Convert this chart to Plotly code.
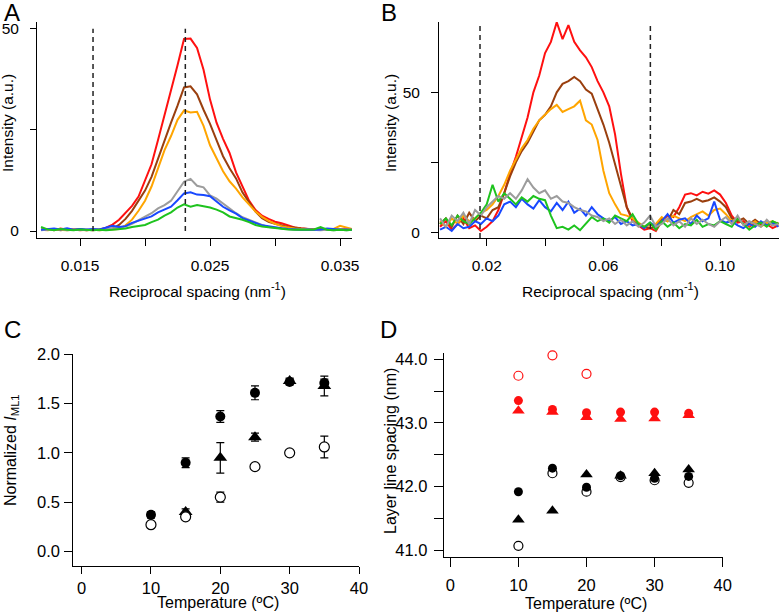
import plotly.graph_objects as go

W, H = 782, 612
FONT = "Liberation Sans, Arial, sans-serif"

# ---------------- Panel A data ----------------
xa = [0.0120, 0.0125, 0.0130, 0.0135, 0.0140, 0.0145, 0.0150, 0.0155, 0.0160, 0.0165,
      0.0170, 0.0175, 0.0180, 0.0185, 0.0190, 0.0195, 0.0200, 0.0205, 0.0210, 0.0215,
      0.0220, 0.0225, 0.0230, 0.0235, 0.0240, 0.0245, 0.0250, 0.0255, 0.0260, 0.0265,
      0.0270, 0.0275, 0.0280, 0.0285, 0.0290, 0.0295, 0.0300, 0.0305, 0.0310, 0.0315,
      0.0320, 0.0325, 0.0330, 0.0335, 0.0340, 0.0345, 0.0350, 0.0355, 0.0360]
a_red = [0.3, 0.5, 0.2, 0.6, 0.3, 0.4, 0.2, 0.3, 0.2, 0.4, 0.8, 1.6, 2.8, 4.5, 6.2, 8.5, 12.5, 16.5,
         22.5, 28.5, 34.5, 41.0, 47.5, 47.6, 45.3, 39.9, 32.5, 26.8, 22.8, 19.3, 14.5, 11.0, 7.5,
         5.2, 3.8, 3.0, 2.3, 1.9, 1.4, 0.9, 0.7, 0.5, 0.4, 0.5, 0.3, 0.4, 0.3, 0.4, 0.3]
a_brown = [0.4, 0.3, 0.5, 0.2, 0.4, 0.3, 0.5, 0.2, 0.4, 0.3, 0.4,
           0.6, 1.5, 3.0, 5.0, 7.5, 10.0, 13.4, 18.0, 22.5, 26.8, 31.0, 35.5, 35.8, 33.8, 30.0,
           26.5, 22.5, 18.5, 15.5, 13.0, 9.5, 7.0, 4.8, 3.2, 2.3, 1.8, 1.4, 1.0, 0.9, 0.6, 0.5,
           0.4, 0.3, 0.4, 0.3, 0.4, 0.3, 0.3]
a_orange = [0.3, 0.2, 0.4, 0.3, 0.2, 0.4, 0.3, 0.2, 0.3, 0.2, 0.3, 0.4,
            0.5, 1.4, 2.8, 5.0, 7.5, 11.0, 15.5, 20.0, 23.5, 27.5, 29.8, 29.3, 29.5, 26.0, 21.2,
            18.0, 14.8, 12.3, 10.5, 8.3, 6.5, 4.8, 3.5, 2.5, 1.8, 1.2, 0.9, 0.6, 0.5, 0.4, 0.4,
            0.3, 0.4, 0.5, 1.3, 0.8, 0.4]
a_gray = [0.2, 0.4, 0.3, 0.5, 0.2, 0.3, 0.4, 0.2, 0.3, 0.2, 0.4,
          0.6, 0.9, 1.1, 1.8, 2.6, 3.6, 4.4, 5.6, 6.4, 7.5, 9.8, 12.2, 12.9, 11.2, 10.8, 8.8,
          8.0, 6.8, 5.4, 4.4, 3.4, 2.8, 2.0, 1.5, 1.0, 0.8, 0.6, 0.5, 0.4, 0.3, 0.4, 0.3, 0.2,
          0.3, 0.2, 0.3, 0.2, 0.3]
a_blue = [0.3, 0.5, 0.6, 0.4, 0.7, 0.3, 0.5, 0.4,
          0.5, 0.4, 0.9, 1.3, 1.0, 1.2, 2.0, 2.6, 3.0, 3.6, 4.6, 5.2, 6.0, 7.6, 9.3, 9.6, 9.0,
          8.9, 8.6, 7.3, 6.0, 5.1, 4.3, 3.2, 2.6, 2.0, 1.4, 1.2, 0.9, 0.7, 0.5, 0.4, 0.3, 0.4,
          0.3, 0.4, 0.6, 0.5, 0.3, 0.4, 0.3]
a_green = [1.0, 0.4, 0.2, 0.5, 0.3, 0.2, 0.4, 0.3, 0.2, 0.3, 0.2, 0.3,
           0.5, 0.6, 1.0, 1.3, 1.5, 2.2, 2.8, 3.8, 4.6, 5.8, 6.6, 6.0, 6.4, 6.1, 5.8, 5.3, 4.6,
           3.6, 3.2, 2.8, 2.2, 1.5, 1.1, 0.9, 0.7, 0.5, 0.4, 0.3, 0.4, 0.3, 0.4, 1.0, 0.3, 0.2,
           0.3, 0.2, 0.3]
a_dashes = [0.0160, 0.0231]

# ---------------- Panel B data ----------------
xb = [0.004, 0.006, 0.008, 0.010, 0.012, 0.014, 0.016, 0.018, 0.020, 0.022,
      0.024, 0.026, 0.028, 0.030, 0.032, 0.034, 0.036, 0.038, 0.040, 0.042,
      0.044, 0.046, 0.048, 0.050, 0.052, 0.054, 0.056, 0.058, 0.060, 0.062,
      0.064, 0.066, 0.068, 0.070, 0.072, 0.074, 0.076, 0.078, 0.080, 0.082,
      0.084, 0.086, 0.088, 0.090, 0.092, 0.094, 0.096, 0.098, 0.100, 0.102,
      0.104, 0.106, 0.108, 0.110, 0.112, 0.114, 0.116, 0.118, 0.120]
b_red = [2, 4, 1, 3, 5, 1.5, 2.5, 0.5, 2, 4, 8, 14, 21, 27, 34, 41, 50, 56, 64, 68,
         75, 69, 74, 68, 65, 62.5, 59, 54, 50, 45, 35, 21, 9, 4, 2.5, 1, 1.5, 0.5, 4, 6,
         5.5, 9, 13.5, 14, 13.2, 14.5, 13.8, 15, 13.5, 10.5, 6, 3.5, 4, 2, 3.5, 2.5, 3, 1.5, 2.5]
b_brown = [3, 5, 2, 6, 3, 7, 4, 6, 5, 8, 9, 14, 20, 25, 29, 32, 36, 40, 42, 45,
           50, 53, 54, 55.5, 54, 51, 49.5, 44, 38.5, 32, 24, 16, 9, 5, 3, 2, 1.5, 2, 5, 4,
           8, 6.5, 10.5, 11, 12, 11, 11.5, 12.5, 11, 9, 5, 4, 5, 3, 4.5, 3, 4, 2.5, 3.5]
b_orange = [4, 2, 5, 3, 6, 4, 5, 7, 8, 10, 13, 17, 22, 26, 30, 33, 37, 40, 42, 44,
            45.5, 43, 44, 45, 47, 40, 38.5, 33, 22, 14, 10, 6.5, 6, 5, 3.5, 2, 2.5, 3, 5.5, 4,
            6, 5, 4, 5.5, 6.5, 7.5, 6, 8, 8.5, 6.5, 4, 5, 3, 2.5, 4, 2, 3.5, 4, 3]
b_gray = [5, 2, 6, 4, 7, 3, 8, 6, 9, 11, 13, 12, 14, 12, 15, 19, 16, 14, 15, 12,
          13, 11, 10.5, 9, 8, 7.5, 6, 5.5, 4, 5, 3, 4.5, 2.5, 4, 2, 3.5, 6, 2, 3, 5,
          2.5, 4, 2, 5, 3, 4.5, 3, 2, 4, 5.5, 3, 6, 2.5, 4, 3, 2, 4.5, 2.5, 3]
b_blue = [1, 2, 0.5, 3, 1.5, 2, 4, 3, 5, 4, 6, 10, 11, 9, 12, 10, 8.5, 11.5, 9, 7.5,
          10.5, 8, 11, 7, 8.5, 6, 9, 6.5, 5, 4, 5.5, 3, 4, 2.5, 3, 1.5, 3.5, 2, 4, 6.5,
          3.5, 4.5, 5, 3, 6, 4, 5, 11, 4.5, 3.5, 4, 2.5, 1.5, 3, 2, 4, 2.5, 3.5, 2]
b_green = [3, 5, 2.5, 6, 4, 3, 5, 7, 10, 17, 11, 14, 12, 10, 12.5, 11, 13, 12, 11.5, 6,
           1.5, 2, 1, 2.5, 0.8, 3, 5.5, 4, 5, 3.5, 6, 5, 4, 6.5, 3, 2, 3.5, 1, 4, 2,
           3.5, 1.5, 3, 2.5, 4.5, 2, 3, 2.5, 4, 3, 2, 5, 3, 1, 2.5, 3.5, 2, 4, 3]
b_dashes = [0.0177, 0.0761]

# ---------------- Panel C data ----------------
temps = [10, 15, 20, 25, 30, 35]
c_filled = [0.37, 0.90, 1.37, 1.61, 1.72, 1.71]
c_filled_err = [0.03, 0.05, 0.06, 0.07, 0.03, 0.04]
c_tri = [None, 0.40, 0.95, 1.16, 1.73, 1.68]
c_tri_err = [0, 0.03, 0.155, 0.04, 0.03, 0.10]
c_open = [0.27, 0.35, 0.55, 0.86, 1.00, 1.06]
c_open_err = [0.02, 0.02, 0.05, 0.02, 0.02, 0.11]

# ---------------- Panel D data ----------------
d_red_open_t = [10, 15, 20]
d_red_open = [43.74, 44.06, 43.77]
d_red_filled = [43.35, 43.21, 43.16, 43.17, 43.17, 43.15]
d_red_tri = [43.19, 43.17, 43.09, 43.06, 43.07, 43.12]
d_blk_filled = [41.92, 42.29, 41.99, 42.17, 42.13, 42.16]
d_blk_open = [41.07, 42.21, 41.92, 42.15, 42.10, 42.06]
d_blk_tri = [41.48, 41.62, 42.19, 42.17, 42.21, 42.27]

# ---------------- styles ----------------
C_RED = "#FF1010"
C_BROWN = "#9A3F0E"
C_ORANGE = "#FFA500"
C_GRAY = "#9C9C9C"
C_BLUE = "#1848FF"
C_GREEN = "#1EC31E"


def px(x):
    return x / W


def py(y):
    return 1 - y / H


fig = go.Figure()

for ys, col in [(a_red, C_RED), (a_brown, C_BROWN), (a_orange, C_ORANGE),
                (a_gray, C_GRAY), (a_blue, C_BLUE), (a_green, C_GREEN)]:
    fig.add_trace(go.Scatter(x=xa, y=ys, mode="lines", line=dict(color=col, width=2),
                             xaxis="x", yaxis="y", showlegend=False, hoverinfo="skip"))

for ys, col in [(b_red, C_RED), (b_brown, C_BROWN), (b_orange, C_ORANGE),
                (b_blue, C_BLUE), (b_green, C_GREEN), (b_gray, C_GRAY)]:
    fig.add_trace(go.Scatter(x=xb, y=ys, mode="lines", line=dict(color=col, width=2),
                             xaxis="x2", yaxis="y2", showlegend=False, hoverinfo="skip"))


def err(arr):
    return dict(type="data", array=arr, visible=True, color="black", thickness=1.2, width=4)


# Panel C markers
fig.add_trace(go.Scatter(x=temps, y=c_tri, mode="markers", error_y=err(c_tri_err),
                         marker=dict(symbol="triangle-up", size=12, color="black"),
                         xaxis="x3", yaxis="y3", showlegend=False, cliponaxis=False))
fig.add_trace(go.Scatter(x=temps, y=c_open, mode="markers", error_y=err(c_open_err),
                         marker=dict(symbol="circle", size=10, color="white",
                                     line=dict(color="black", width=1.2)),
                         xaxis="x3", yaxis="y3", showlegend=False, cliponaxis=False))
fig.add_trace(go.Scatter(x=temps, y=c_filled, mode="markers", error_y=err(c_filled_err),
                         marker=dict(symbol="circle", size=10, color="black"),
                         xaxis="x3", yaxis="y3", showlegend=False, cliponaxis=False))

# Panel D markers
for ys, col in [(d_blk_tri, "black"), (d_red_tri, C_RED)]:
    fig.add_trace(go.Scatter(x=temps, y=ys, mode="markers",
                             marker=dict(symbol="triangle-up", size=11, color=col),
                             xaxis="x4", yaxis="y4", showlegend=False, cliponaxis=False))
fig.add_trace(go.Scatter(x=temps, y=d_blk_open, mode="markers",
                         marker=dict(symbol="circle", size=9, color="white",
                                     line=dict(color="black", width=1.2)),
                         xaxis="x4", yaxis="y4", showlegend=False, cliponaxis=False))
fig.add_trace(go.Scatter(x=d_red_open_t, y=d_red_open, mode="markers",
                         marker=dict(symbol="circle", size=9, color="white",
                                     line=dict(color=C_RED, width=1.2)),
                         xaxis="x4", yaxis="y4", showlegend=False, cliponaxis=False))
for ys, col in [(d_blk_filled, "black"), (d_red_filled, C_RED)]:
    fig.add_trace(go.Scatter(x=temps, y=ys, mode="markers",
                             marker=dict(symbol="circle", size=9, color=col),
                             xaxis="x4", yaxis="y4", showlegend=False, cliponaxis=False))


def ax(size, ticklen, standoff, **kw):
    d = dict(showline=True, linecolor="black", linewidth=1, ticks="outside",
             ticklen=ticklen, tickwidth=1, tickcolor="black", showgrid=False,
             zeroline=False, ticklabelstandoff=standoff, automargin=False,
             tickfont=dict(family=FONT, size=size, color="black"))
    d.update(kw)
    return d


TA = 15.5   # tick font A/B
TC = 16.5   # tick font C/D
fig.update_layout(
    width=W, height=H, margin=dict(l=0, r=0, t=0, b=0, pad=0), autosize=False,
    paper_bgcolor="white", plot_bgcolor="white", showlegend=False,
    xaxis=ax(TA, 7, 6, domain=[px(37), px(352)], range=[0.01169, 0.03592], anchor="y",
             tickvals=[0.015, 0.020, 0.025, 0.030, 0.035],
             ticktext=["0.015", " ", "0.025", " ", "0.035"]),
    yaxis=ax(TA, 6, 8, domain=[py(238), py(22)], range=[-1.73, 51.7], anchor="x",
             tickvals=[0, 25, 50], ticktext=["0", " ", "50"]),
    xaxis2=ax(TA, 7, 6, domain=[px(439), px(779)], range=[0.00364, 0.1202], anchor="y2",
              tickvals=[0.02, 0.04, 0.06, 0.08, 0.10],
              ticktext=["0.02", " ", "0.06", " ", "0.10"]),
    yaxis2=ax(TA, 7, 8, domain=[py(238), py(22)], range=[-2.0, 75.1], anchor="x2",
              tickvals=[0, 25, 50], ticktext=["0", " ", "50"]),
    xaxis3=ax(TC, 7, 0, domain=[px(73.3), px(359)], range=[-1.2, 40], anchor="y3",
              tickvals=[0, 10, 20, 30, 40]),
    yaxis3=ax(TC, 8, 1, domain=[py(566), py(354)], range=[-0.15, 2.005], anchor="x3",
              tickvals=[0, 0.5, 1.0, 1.5, 2.0], ticktext=["0.0", "0.5", "1.0", "1.5", "2.0"]),
    xaxis4=ax(TC, 9, 4, domain=[px(443.7), px(722.7)], range=[-0.97, 40], anchor="y4",
              tickvals=[0, 10, 20, 30, 40]),
    yaxis4=ax(TC, 9, 3, domain=[py(556.7), py(352.8)], range=[40.9, 44.1], anchor="x4",
              tickvals=[41, 41.5, 42, 42.5, 43, 43.5, 44],
              ticktext=["41.0", " ", "42.0", " ", "43.0", " ", "44.0"]),
)

shapes = []
for xv in a_dashes:
    shapes.append(dict(type="line", xref="x", yref="y", x0=xv, x1=xv, y0=0, y1=50,
                       line=dict(color="#222222", width=1.5, dash="5px,4px")))
for xv in b_dashes:
    shapes.append(dict(type="line", xref="x2", yref="y2 domain", x0=xv, x1=xv, y0=0, y1=1,
                       line=dict(color="#222222", width=1.5, dash="5px,4px")))
fig.update_layout(shapes=shapes)


def note(text, x, y, size, angle=0):
    return dict(text=text, xref="paper", yref="paper", x=px(x), y=py(y),
                xanchor="center", yanchor="middle", showarrow=False, textangle=angle,
                font=dict(family=FONT, size=size, color="black"))


annos = [
    note("A", 12, 12, 24), note("B", 389, 12, 24),
    note("C", 12, 329, 24), note("D", 388, 329, 24),
    note("Reciprocal spacing (nm<sup>-1</sup>)", 197, 290, 15.5),
    note("Reciprocal spacing (nm<sup>-1</sup>)", 610, 290, 15.5),
    note("Intensity (a.u.)", 8, 123, 15.5, -90),
    note("Intensity (a.u.)", 391, 123, 15.5, -90),
    note("Temperature (ºC)", 218, 602, 16),
    note("Temperature (ºC)", 586, 603, 16),
    note("Normalized <i>I</i><sub>ML1</sub>", 11, 450, 16, -90),
    note("Layer line spacing (nm)", 390, 451, 16, -90),
]
fig.update_layout(annotations=annos)

fig.write_html("out.html", config={"displayModeBar": False},
               post_script="document.body.style.margin='0';document.body.style.padding='0';"
                           "document.body.style.overflow='hidden';")
